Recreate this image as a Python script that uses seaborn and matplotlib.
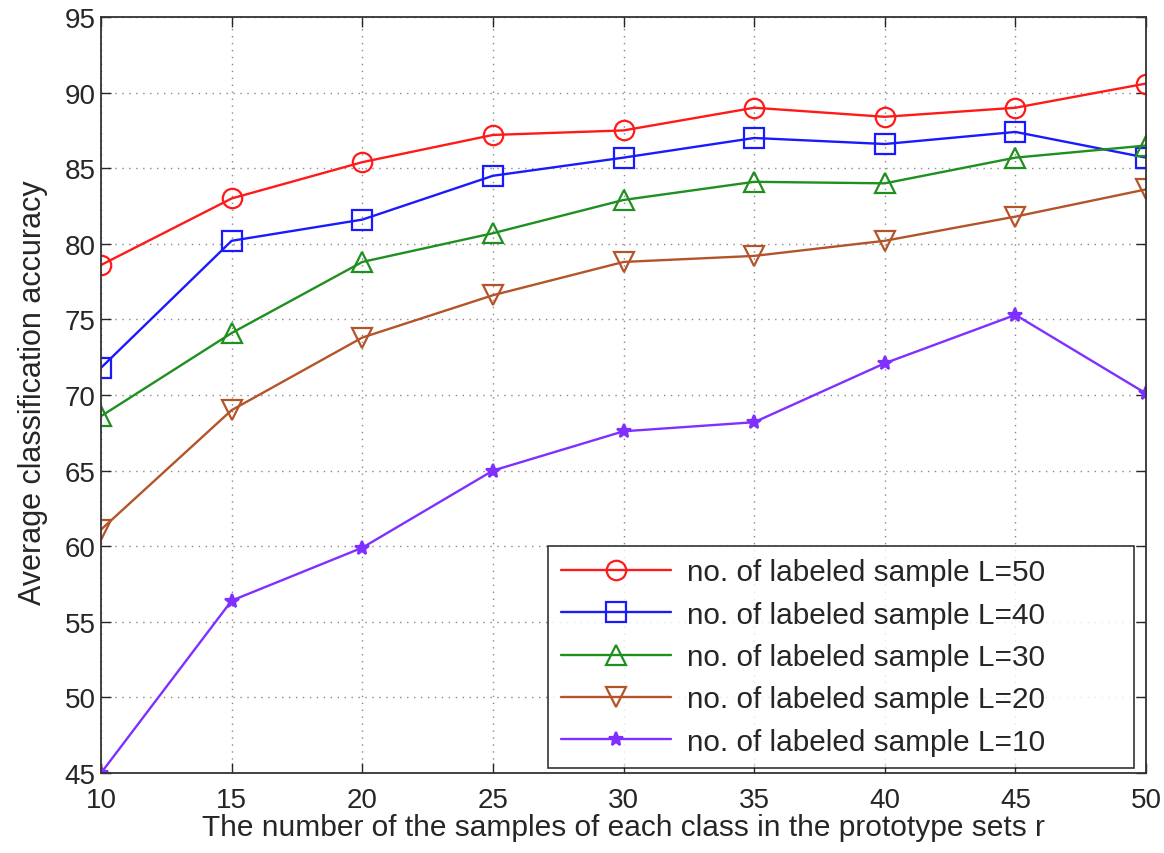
import pandas as pd
import matplotlib
matplotlib.use("Agg")
import matplotlib.pyplot as plt
import seaborn as sns

# values
r_values = [10, 15, 20, 25, 30, 35, 40, 45, 50]
acc_L50 = [78.6, 83.0, 85.4, 87.2, 87.5, 89.0, 88.4, 89.0, 90.6]
acc_L40 = [71.8, 80.2, 81.6, 84.5, 85.7, 87.0, 86.6, 87.4, 85.7]
acc_L30 = [68.6, 74.1, 78.8, 80.7, 82.9, 84.1, 84.0, 85.7, 86.5]
acc_L20 = [61.1, 69.0, 73.8, 76.6, 78.8, 79.2, 80.2, 81.8, 83.6]
acc_L10 = [45.0, 56.4, 59.9, 65.0, 67.6, 68.2, 72.1, 75.3, 70.1]

labels = ["no. of labeled sample L=50", "no. of labeled sample L=40",
          "no. of labeled sample L=30", "no. of labeled sample L=20",
          "no. of labeled sample L=10"]
series = [acc_L50, acc_L40, acc_L30, acc_L20, acc_L10]
colors = ["#ff1a1a", "#1a1aff", "#1f8f1f", "#b4542a", "#7f2fff"]
markers = ["o", "s", "^", "v", "*"]

sns.set_style("white")
plt.rcParams["font.family"] = ["Liberation Sans", "DejaVu Sans"]

fig = plt.figure(figsize=(11.64, 8.54), dpi=100)
ax = fig.add_axes([0.0868, 0.0937, 0.8978, 0.8852])

for lab, vals, col, mk in zip(labels, series, colors, markers):
    df = pd.DataFrame({"r": r_values, "acc": vals})
    filled = mk == "*"
    sns.lineplot(data=df, x="r", y="acc", ax=ax, color=col, label=lab,
                 marker=mk, markersize=14 if not filled else 10,
                 markerfacecolor=col if filled else "none",
                 markeredgecolor=col, markeredgewidth=1.6, linewidth=1.7)

ax.set_xlim(10, 50)
ax.set_ylim(45, 95)
ax.set_xticks(range(10, 51, 5))
ax.set_yticks(range(45, 96, 5))
ax.grid(True, linestyle=(0, (1, 4)), color="#888888", linewidth=1.0)
ax.tick_params(direction="in", length=7, width=1, labelsize=20,
               top=True, right=True, bottom=True, left=True)
ax.tick_params(axis="x", pad=10)
ax.tick_params(axis="y", pad=4)
for s in ax.spines.values():
    s.set_color("#333333")
    s.set_linewidth(1.3)

ax.set_xlabel("The number of the samples of each class in the prototype sets r",
              fontsize=21.5, labelpad=0)
ax.set_ylabel("Average classification accuracy", fontsize=22)
ax.yaxis.set_label_coords(-0.051, 0.505)

leg = ax.legend(loc="lower left", bbox_to_anchor=(0.4278, 0.0066, 0.5608, 0.3),
                mode="expand", fontsize=21.4, handlelength=3.7,
                frameon=True, fancybox=False, edgecolor="black",
                borderaxespad=0, labelspacing=0.48, borderpad=0.42,
                handletextpad=0.54)
leg.get_frame().set_linewidth(1.2)

fig.savefig("out.png", dpi=100)
